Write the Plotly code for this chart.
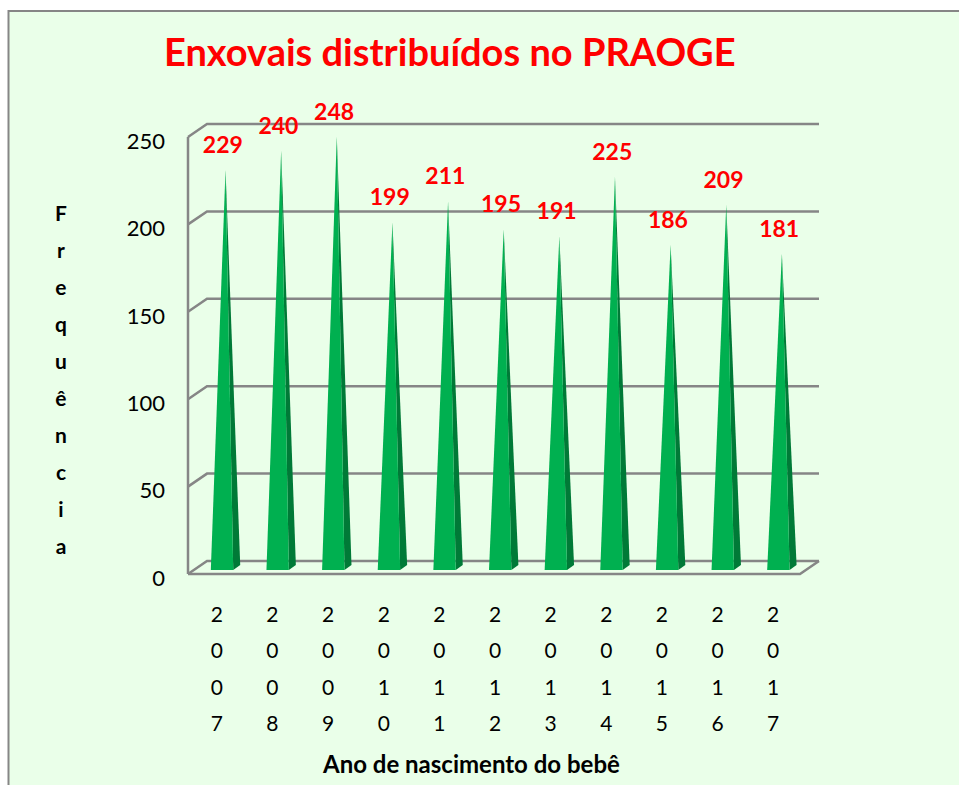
import plotly.graph_objects as go

# --- data ---
years = ["2007", "2008", "2009", "2010", "2011", "2012", "2013", "2014", "2015", "2016", "2017"]
values = [229, 240, 248, 199, 211, 195, 191, 225, 186, 209, 181]
y_ticks = [0, 50, 100, 150, 200, 250]
title_text = "Enxovais distribuídos no PRAOGE"
x_title = "Ano de nascimento do bebê"
y_title = "Frequência"

# --- layout constants (pixels of the 959x785 page) ---
W, H = 959, 785
FONT = "Lato"
L, R, T, B = 178, 832, 90, 580          # subplot box
X0, X1 = 188, 800                       # front floor, left/right
Y0, Y250 = 574, 137                     # front wall, value 0 / 250
DX, DY = 19, 13                         # depth of the 3D box
PX_X = (X1 - X0) / len(years)           # px per category
PX_Y = (Y0 - Y250) / 250                # px per value unit
GREY = "#868686"
BG = "#EAFFE9"

x_range = [-0.5 + (L - X0) / PX_X, -0.5 + (R - X0) / PX_X]
y_range = [(Y0 - B) / PX_Y, (Y0 - T) / PX_Y]
ux = 1 / PX_X
uy = 1 / PX_Y
left = -0.5
right = len(years) - 0.5
ddx, ddy = DX * ux, DY * uy

fig = go.Figure()


def poly(xs, ys, color):
    fig.add_trace(go.Scatter(x=xs, y=ys, mode="lines", fill="toself", fillcolor=color,
                             line=dict(width=0, color=color), hoverinfo="skip", showlegend=False))


# wall gridlines, floor and left edge
gx, gy = [], []
for v in y_ticks:
    gx += [left, left + ddx, right + ddx, None]
    gy += [v, v + ddy, v + ddy, None]
gx += [left, left, None, left, right, right + ddx]
gy += [0, y_ticks[-1], None, 0, 0, ddy]
fig.add_trace(go.Scatter(x=gx, y=gy, mode="lines", line=dict(color=GREY, width=2.5),
                         hoverinfo="skip", showlegend=False))

# pyramids
base = 4 * uy
for i, v in enumerate(values):
    xl = i + 6.2 * ux - 11.2 * ux
    xr = i + 6.2 * ux + 11.2 * ux
    xb = xr + 7 * ux
    apex_x = i + 9.7 * ux
    apex_y = v + base
    poly([xr, xb, apex_x, xr], [base, base + 5 * uy, apex_y, base], "#007A37")
    poly([xl, xr, apex_x, xl], [base, base, apex_y, base], "#00B050")

# value labels
fig.add_trace(go.Scatter(
    x=[i + 7 * ux for i in range(len(values))],
    y=[v + base + 11 * uy for v in values],
    mode="text", text=[str(v) for v in values], textposition="top center",
    textfont=dict(family=FONT, size=23, color="#FF0000", weight="bold"),
    hoverinfo="skip", showlegend=False, cliponaxis=False))

# stacked characters: the big font sets the line spacing, the span sets the glyph size
def stacked(chars, size, bold=False):
    w = "font-weight:bold;" if bold else ""
    return "<br>".join(f'<span style="{w}font-size:{size}px">{c}</span>' for c in chars)


px = lambda p: (p - L) / (R - L)
py = lambda p: (B - p) / (B - T)

fig.update_layout(
    width=W, height=H, autosize=False,
    margin=dict(l=L, r=W - R, t=T, b=H - B, pad=0),
    paper_bgcolor="white", plot_bgcolor="rgba(0,0,0,0)",
    font=dict(family=FONT, color="#000000"),
    xaxis=dict(range=x_range, tickmode="array", tickvals=list(range(len(years))),
               ticktext=[stacked(y, 21) for y in years], tickangle=0,
               tickfont=dict(family=FONT, size=28, color="#000000"),
               showgrid=False, zeroline=False, showline=False, ticks="", ticklabelstandoff=13,
               ticklabelshift=1),
    yaxis=dict(range=y_range, tickmode="array", tickvals=y_ticks, ticktext=[str(t) for t in y_ticks],
               tickfont=dict(family=FONT, size=22, color="#000000"),
               showgrid=False, zeroline=False, showline=False, ticks="", ticklabelstandoff=12,
               ticklabelshift=4),
    shapes=[dict(type="rect", xref="paper", yref="paper", layer="below",
                 x0=px(8.5), x1=px(W + 20), y0=py(11), y1=py(H + 20),
                 line=dict(color=GREY, width=2), fillcolor=BG)],
    annotations=[
        dict(text=f"<b>{title_text}</b>", xref="paper", yref="paper", x=px(450), y=py(51),
             xanchor="center", yanchor="middle", showarrow=False,
             font=dict(family=FONT, size=38, color="#FF0000")),
        dict(text=f"<b>{x_title}</b>", xref="paper", yref="paper", x=px(471), y=py(763),
             xanchor="center", yanchor="middle", showarrow=False,
             font=dict(family=FONT, size=24, color="#000000")),
        dict(text=stacked(y_title, 21, True), xref="paper", yref="paper", x=px(61), y=py(379),
             xanchor="center", yanchor="middle", showarrow=False,
             font=dict(family=FONT, size=28.5, color="#000000")),
    ],
)

fig.write_html("out.html", post_script="document.body.style.margin='0';",
               config=dict(displayModeBar=False))
